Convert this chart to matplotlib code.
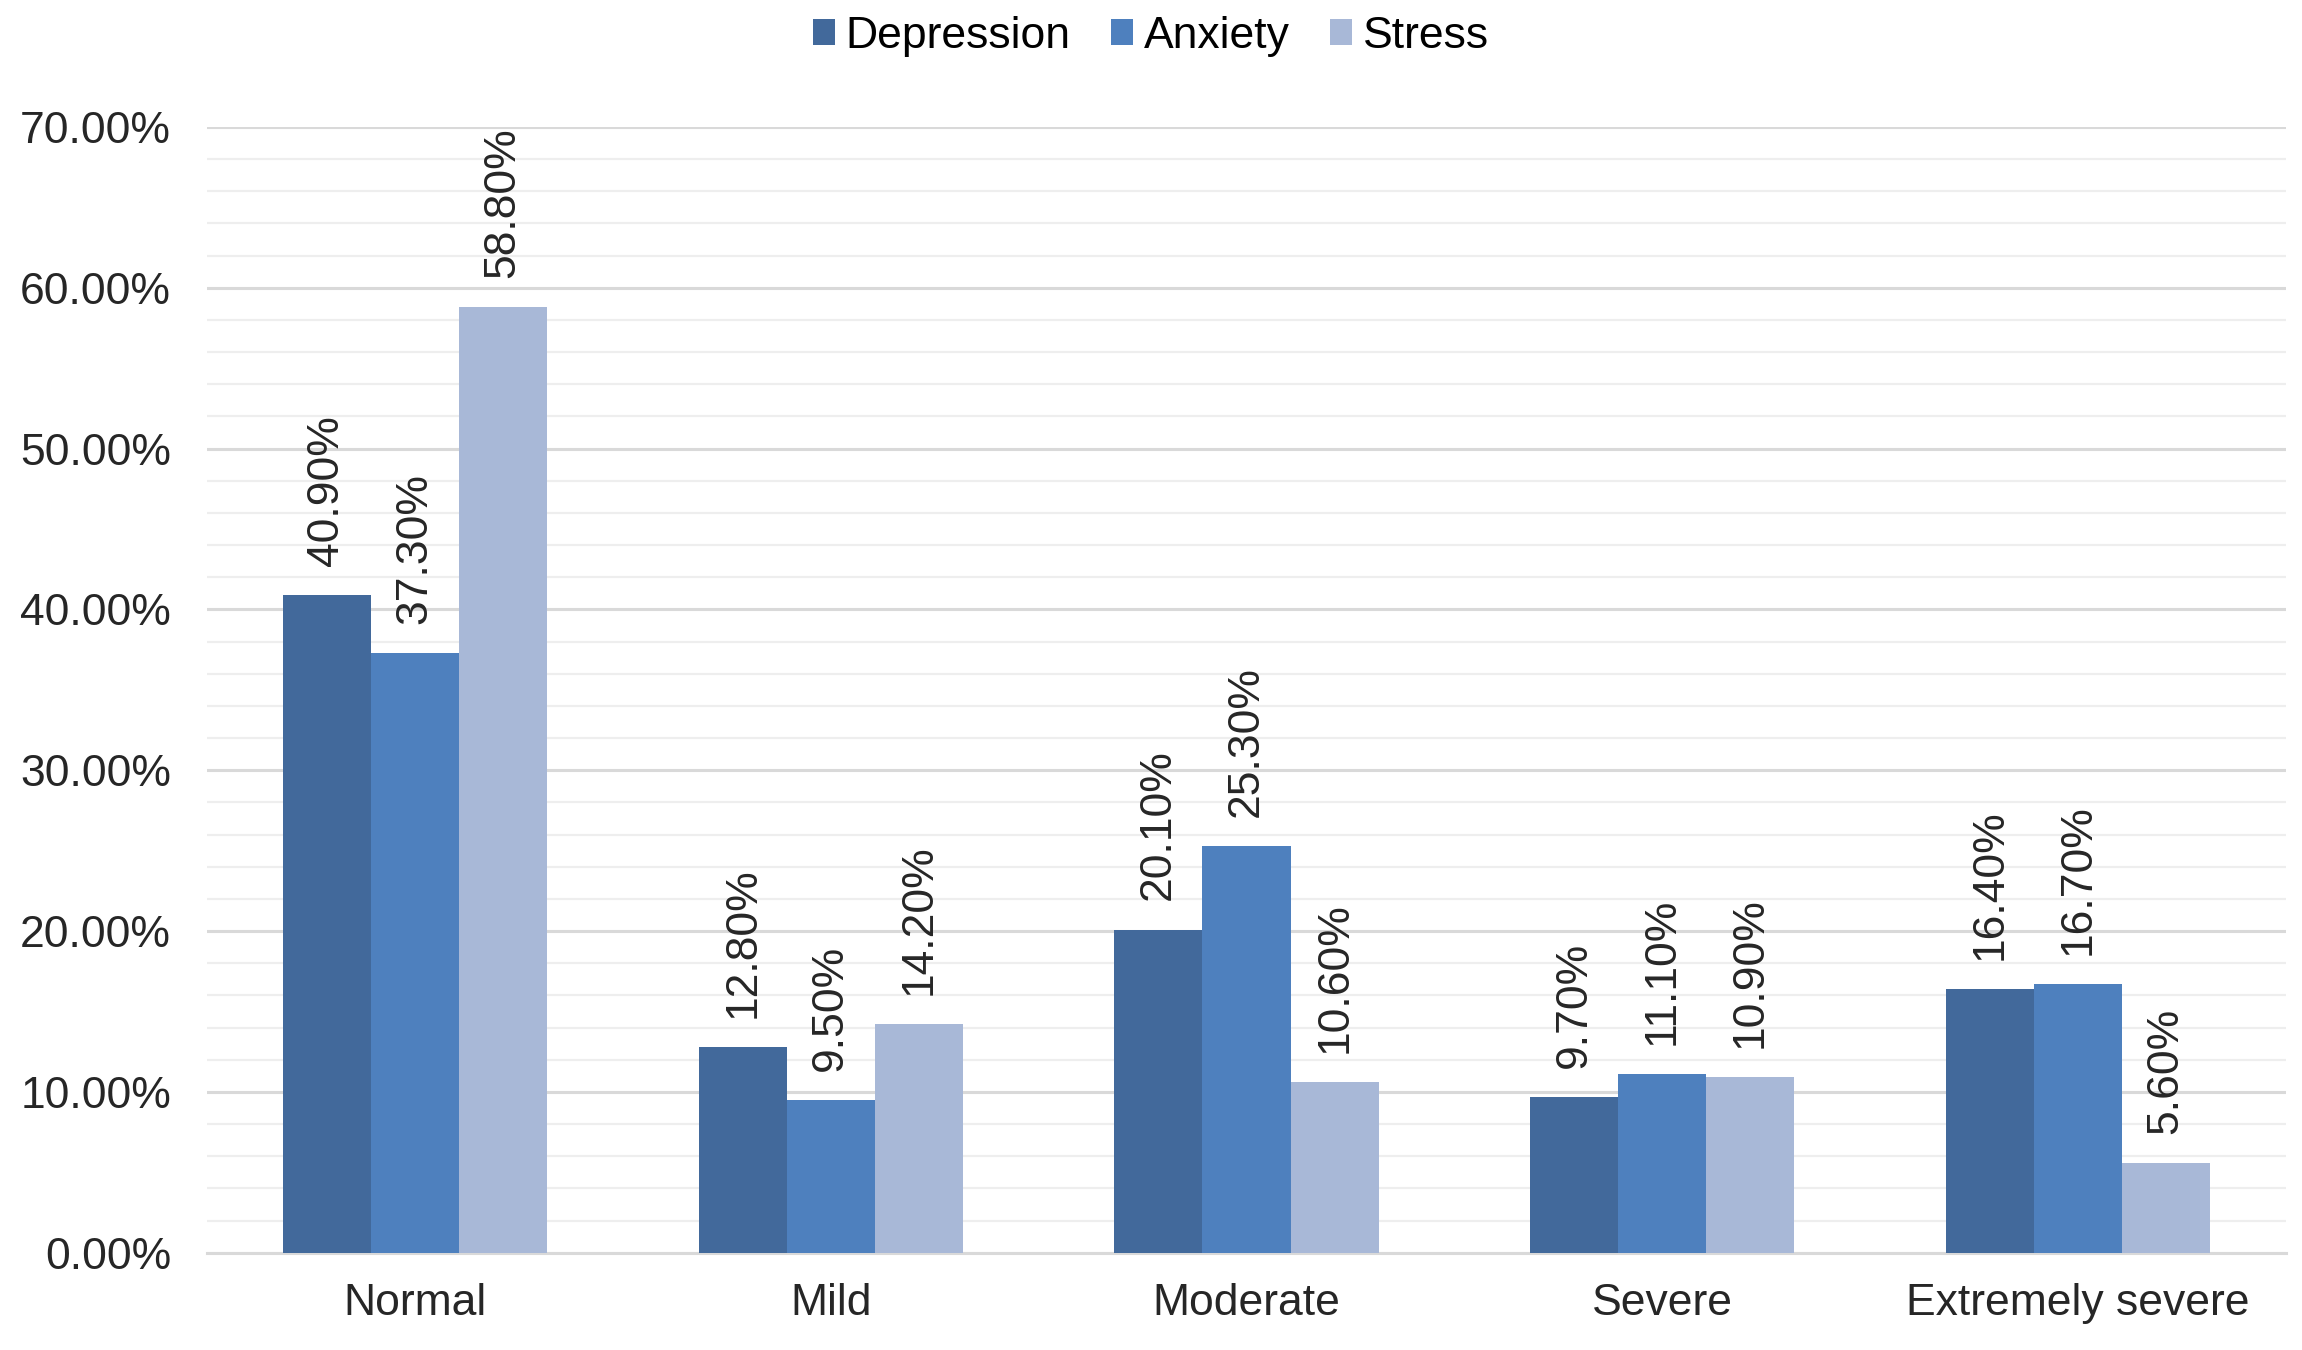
import matplotlib.pyplot as plt
import numpy as np
from matplotlib.ticker import MultipleLocator, FuncFormatter

categories = ['Normal', 'Mild', 'Moderate', 'Severe', 'Extremely severe']
depression = [40.9, 12.8, 20.1, 9.7, 16.4]
anxiety = [37.3, 9.5, 25.3, 11.1, 16.7]
stress = [58.8, 14.2, 10.6, 10.9, 5.6]
series_names = ['Depression', 'Anxiety', 'Stress']
colors = ['#42699B', '#4E80BE', '#A8B8D7']

plt.rcParams['font.family'] = ['Liberation Sans', 'DejaVu Sans']

fig = plt.figure(figsize=(23.02, 13.5), dpi=100)
ax = fig.add_axes([0.090, 0.072, 0.903, 0.834])

x = np.arange(len(categories))
width = 0.212

for i, (name, vals) in enumerate(zip(series_names, [depression, anxiety, stress])):
    pos = x + (i - 1) * width
    bars = ax.bar(pos, vals, width, color=colors[i], label=name, zorder=3)
    for b, v in zip(bars, vals):
        ax.annotate(f'{v:.2f}%',
                    xy=(b.get_x() + b.get_width() / 2, v),
                    xytext=(0, 21), textcoords='offset points',
                    rotation=90, ha='center', va='bottom',
                    fontsize=32, color='#262626')

# Axes limits and ticks
ax.set_xlim(-0.5, len(categories) - 0.5)
ax.set_ylim(0, 70)
ax.yaxis.set_major_locator(MultipleLocator(10))
ax.yaxis.set_minor_locator(MultipleLocator(2))
ax.yaxis.set_major_formatter(FuncFormatter(lambda v, p: f'{v:.2f}%'))
ax.set_xticks(x)
ax.set_xticklabels(categories)
ax.tick_params(axis='both', length=0, labelsize=32, labelcolor='#262626')
ax.tick_params(axis='y', which='minor', length=0)
ax.tick_params(axis='y', pad=26)
ax.tick_params(axis='x', pad=22)

ax.grid(axis='y', which='major', color='#d9d9d9', linewidth=2.2, zorder=0)
ax.grid(axis='y', which='minor', color='#eeeeee', linewidth=1.6, zorder=0)

for s in ['top', 'right', 'left']:
    ax.spines[s].set_visible(False)
ax.spines['bottom'].set_color('#d9d9d9')
ax.spines['bottom'].set_linewidth(2.2)

fig.legend(loc='upper center', bbox_to_anchor=(0.5, 1.018), ncol=3,
           frameon=False, fontsize=32, handlelength=0.5, handleheight=0.5,
           handletextpad=0.25, columnspacing=0.9)

fig.savefig('out.png', dpi=100)
